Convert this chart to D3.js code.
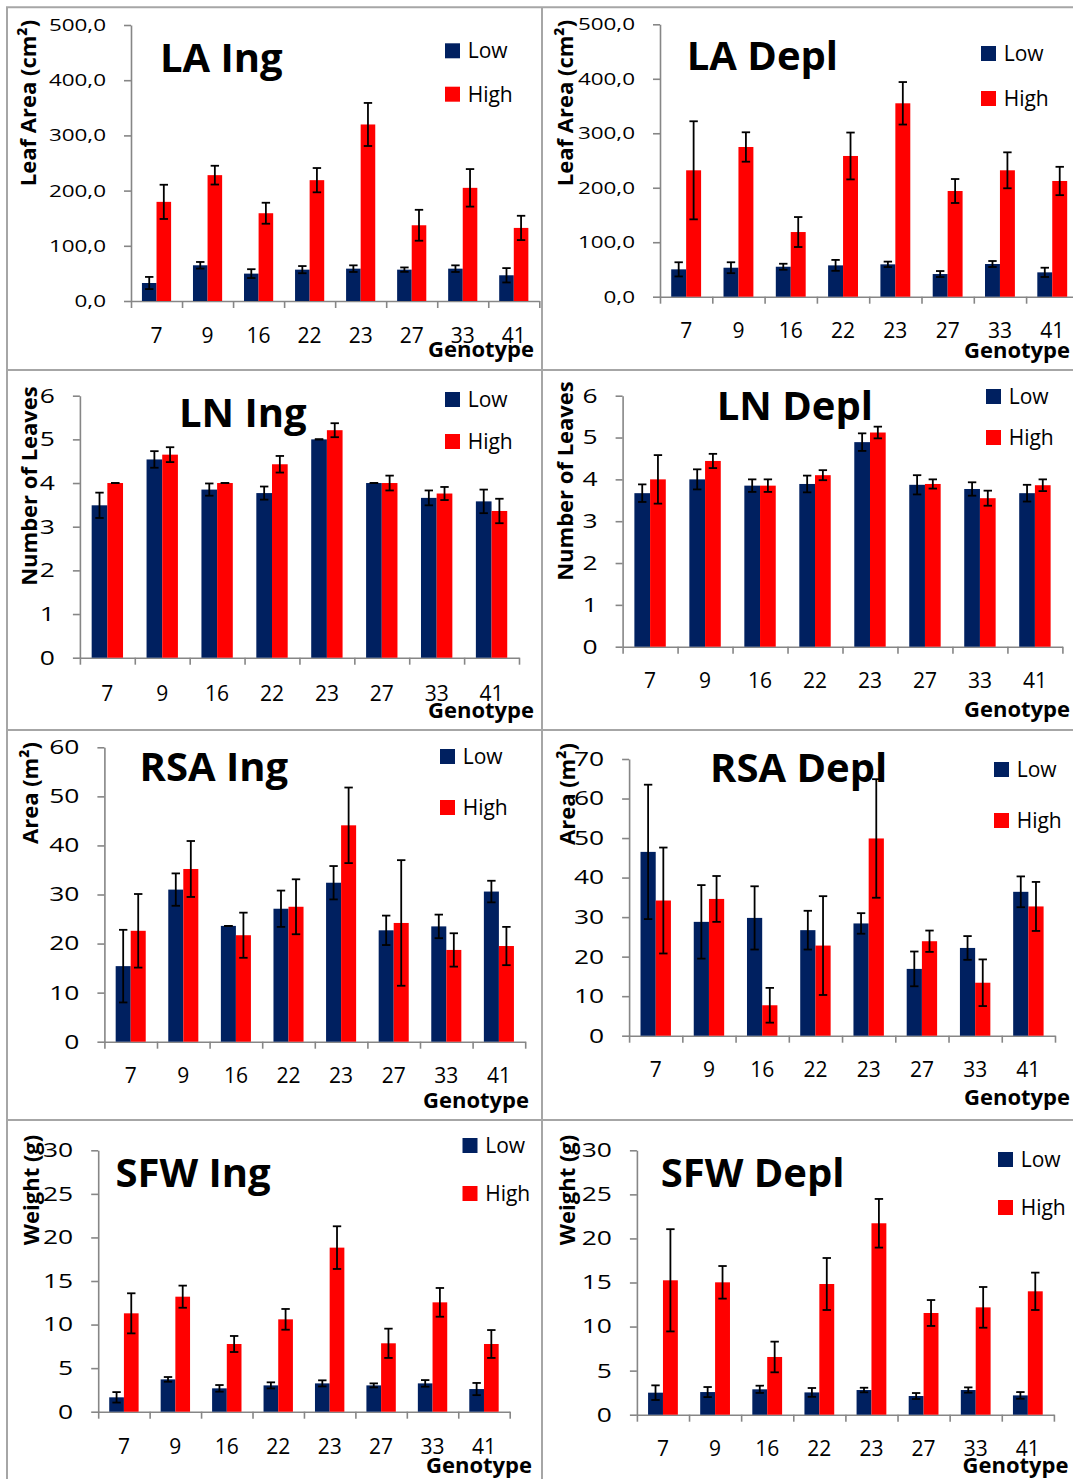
<!DOCTYPE html>
<html>
<head>
<meta charset="utf-8">
<script src="https://cdn.jsdelivr.net/npm/d3@7"></script>
<style>
  body { margin: 0; background: #fff; }
  svg { display: block; font-family: "Open Sans", Lato, sans-serif; }
</style>
</head>
<body>
<svg id="chart" width="1073" height="1479"></svg>
<script>
// categories and series
const genotypes = ["7", "9", "16", "22", "23", "27", "33", "41"];
const seriesNames = ["Low", "High"];

// Leaf area (cm²)
const laIngLow      = [32.6, 64.7, 49.6, 56.8, 58.6, 56.8, 58.6, 46.6];
const laIngLowErr   = [11, 6, 8, 6.5, 6, 4, 6, 13];
const laIngHigh     = [179.6, 228, 159, 218.9, 319.8, 137.2, 205, 132.4];
const laIngHighErr  = [31, 17, 19, 22, 39, 28, 34, 22];
const laDeplLow     = [50.2, 53.2, 55, 57.5, 59.4, 41.6, 60, 44.7];
const laDeplLowErr  = [13, 10, 5.5, 10, 5, 5.5, 5.5, 8.5];
const laDeplHigh    = [232, 274.8, 118.7, 258.3, 355, 194, 232, 212.4];
const laDeplHighErr = [90, 27, 27.5, 43, 39, 22, 33, 26];

// Number of leaves
const lnIngLow      = [3.49, 4.54, 3.85, 3.77, 5.0, 4.0, 3.66, 3.58];
const lnIngLowErr   = [0.29, 0.19, 0.14, 0.15, 0, 0, 0.17, 0.27];
const lnIngHigh     = [4.0, 4.65, 4.0, 4.43, 5.21, 4.0, 3.76, 3.36];
const lnIngHighErr  = [0, 0.17, 0, 0.19, 0.16, 0.17, 0.15, 0.28];
const lnDeplLow     = [3.67, 4.0, 3.85, 3.89, 4.89, 3.87, 3.77, 3.67];
const lnDeplLowErr  = [0.21, 0.24, 0.15, 0.2, 0.21, 0.23, 0.16, 0.2];
const lnDeplHigh    = [4.0, 4.44, 3.85, 4.1, 5.12, 3.89, 3.55, 3.86];
const lnDeplHighErr = [0.58, 0.17, 0.15, 0.12, 0.14, 0.11, 0.18, 0.14];

// Root surface area (m²)
const rsaIngLow      = [15.4, 31.0, 23.6, 27.1, 32.4, 22.7, 23.5, 30.6];
const rsaIngLowErr   = [7.4, 3.3, 0, 3.7, 3.4, 3.0, 2.4, 2.2];
const rsaIngHigh     = [22.6, 35.2, 21.7, 27.5, 44.1, 24.2, 18.7, 19.5];
const rsaIngHighErr  = [7.5, 5.7, 4.6, 5.6, 7.7, 12.8, 3.4, 3.9];
const rsaDeplLow     = [46.5, 28.8, 29.8, 26.7, 28.4, 16.9, 22.2, 36.4];
const rsaDeplLowErr  = [17, 9.3, 8, 4.9, 2.6, 4.4, 3.0, 3.9];
const rsaDeplHigh    = [34.2, 34.6, 7.7, 22.8, 49.9, 23.9, 13.4, 32.7];
const rsaDeplHighErr = [13.4, 5.8, 4.4, 12.5, 15, 2.7, 5.9, 6.2];

// Shoot fresh weight (g)
const sfwIngLow      = [1.65, 3.71, 2.68, 3.02, 3.25, 3.02, 3.25, 2.6];
const sfwIngLowErr   = [0.6, 0.27, 0.38, 0.35, 0.35, 0.23, 0.38, 0.7];
const sfwIngHigh     = [11.29, 13.2, 7.77, 10.6, 18.83, 7.85, 12.55, 7.77];
const sfwIngHighErr  = [2.3, 1.27, 0.92, 1.19, 2.45, 1.68, 1.65, 1.6];
const sfwDeplLow     = [2.5, 2.57, 2.88, 2.53, 2.8, 2.12, 2.8, 2.19];
const sfwDeplLowErr  = [0.83, 0.57, 0.41, 0.5, 0.26, 0.34, 0.3, 0.38];
const sfwDeplHigh    = [15.25, 15.02, 6.55, 14.83, 21.72, 11.54, 12.18, 14.0];
const sfwDeplHighErr = [5.8, 1.85, 1.74, 2.95, 2.76, 1.47, 2.31, 2.12];

const colors = { Low: "#002060", High: "#ff0000" };
const axisColor = "#868686";
const commaFmt = d => d3.format(".1f")(d).replace(".", ",");
const intFmt = d3.format("d");

// layout of each panel (pixel positions only)
const panels = [
  { title: "LA Ing", yTitle: "Leaf Area (cm²)", yMax: 500, yStep: 100, fmt: commaFmt, tickFont: 17,
    low: laIngLow, lowErr: laIngLowErr, high: laIngHigh, highErr: laIngHighErr,
    x0: 131, x1: 539.3, yTop: 25, yBot: 301, catY: 343.3,
    titleX: 160, titleY: 71.7, legX: 445, legY: [43.3, 86.7], yTitleX: 28, yTitleY: 103, genoX: 534, genoY: 356.7 },
  { title: "LA Depl", yTitle: "Leaf Area (cm²)", yMax: 500, yStep: 100, fmt: commaFmt, tickFont: 17,
    low: laDeplLow, lowErr: laDeplLowErr, high: laDeplHigh, highErr: laDeplHighErr,
    x0: 660, x1: 1078.4, yTop: 24.3, yBot: 296.7, catY: 338,
    titleX: 686.7, titleY: 70, legX: 981, legY: [46, 91], yTitleX: 565.5, yTitleY: 103, genoX: 1070, genoY: 358 },
  { title: "LN Ing", yTitle: "Number of Leaves", yMax: 6, yStep: 1, fmt: intFmt, tickFont: 20,
    low: lnIngLow, lowErr: lnIngLowErr, high: lnIngHigh, highErr: lnIngHighErr,
    x0: 79.9, x1: 519, yTop: 395.7, yBot: 657.7, catY: 701,
    titleX: 179, titleY: 427, legX: 445, legY: [392, 434], yTitleX: 29, yTitleY: 486, genoX: 534, genoY: 718 },
  { title: "LN Depl", yTitle: "Number of Leaves", yMax: 6, yStep: 1, fmt: intFmt, tickFont: 20,
    low: lnDeplLow, lowErr: lnDeplLowErr, high: lnDeplHigh, highErr: lnDeplHighErr,
    x0: 622.6, x1: 1062.4, yTop: 395.7, yBot: 646.7, catY: 688,
    titleX: 716.7, titleY: 420, legX: 986, legY: [389, 430], yTitleX: 565.5, yTitleY: 481, genoX: 1070, genoY: 717 },
  { title: "RSA Ing", yTitle: "Area (m²)", yMax: 60, yStep: 10, fmt: intFmt, tickFont: 20,
    low: rsaIngLow, lowErr: rsaIngLowErr, high: rsaIngHigh, highErr: rsaIngHighErr,
    x0: 104.4, x1: 525.2, yTop: 747.3, yBot: 1041.7, catY: 1083,
    titleX: 139.5, titleY: 781, legX: 440, legY: [749, 800], yTitleX: 30, yTitleY: 793, genoX: 529, genoY: 1108 },
  { title: "RSA Depl", yTitle: "Area (m²)", yMax: 70, yStep: 10, fmt: intFmt, tickFont: 20,
    low: rsaDeplLow, lowErr: rsaDeplLowErr, high: rsaDeplHigh, highErr: rsaDeplHighErr,
    x0: 629.1, x1: 1055, yTop: 759, yBot: 1035.7, catY: 1077,
    titleX: 710, titleY: 782, legX: 994, legY: [762, 813], yTitleX: 567, yTitleY: 794, genoX: 1070, genoY: 1105 },
  { title: "SFW Ing", yTitle: "Weight (g)", yMax: 30, yStep: 5, fmt: intFmt, tickFont: 20,
    low: sfwIngLow, lowErr: sfwIngLowErr, high: sfwIngHigh, highErr: sfwIngHighErr,
    x0: 98.2, x1: 509.7, yTop: 1150.3, yBot: 1411.7, catY: 1454,
    titleX: 115.4, titleY: 1187, legX: 462.5, legY: [1138, 1186], yTitleX: 31, yTitleY: 1190, genoX: 532, genoY: 1473 },
  { title: "SFW Depl", yTitle: "Weight (g)", yMax: 30, yStep: 5, fmt: intFmt, tickFont: 20,
    low: sfwDeplLow, lowErr: sfwDeplLowErr, high: sfwDeplHigh, highErr: sfwDeplHighErr,
    x0: 636.9, x1: 1053.9, yTop: 1150.3, yBot: 1414.7, catY: 1456,
    titleX: 660.7, titleY: 1187, legX: 998, legY: [1152, 1200], yTitleX: 567, yTitleY: 1190, genoX: 1068.5, genoY: 1473 }
];

const svg = d3.select("#chart");

// panel frame lines
const frame = svg.append("g").attr("stroke", "#a6a6a6").attr("stroke-width", 2).attr("fill", "none");
frame.append("path").attr("d", "M7,1479 V7.3 H1073");
frame.append("line").attr("x1", 542).attr("x2", 542).attr("y1", 7).attr("y2", 1479);
[370, 730, 1120].forEach(yy => frame.append("line").attr("x1", 7).attr("x2", 1073).attr("y1", yy).attr("y2", yy));

function drawPanel(p) {
  const g = svg.append("g");

  const y = d3.scaleLinear().domain([0, p.yMax]).range([p.yBot, p.yTop]);
  const x = d3.scaleBand().domain(genotypes).range([p.x0, p.x1]);
  const bw = x.bandwidth() / 3.5;   // excel gap width 150%
  const xs = d3.scaleBand().domain(seriesNames)
    .range([x.bandwidth() / 2 - bw, x.bandwidth() / 2 + bw]);
  const xb = d3.scaleLinear().domain([0, genotypes.length]).range([p.x0, p.x1]);

  // y axis
  const yAxis = g.append("g")
    .attr("transform", `translate(${p.x0},0)`)
    .call(d3.axisLeft(y)
      .tickValues(d3.range(0, p.yMax + 1e-9, p.yStep))
      .tickSize(7).tickSizeOuter(0).tickPadding(18)
      .tickFormat(p.fmt));

  // x axis: ticks between categories
  const xAxis = g.append("g")
    .attr("transform", `translate(0,${p.yBot})`)
    .call(d3.axisBottom(xb)
      .tickValues(d3.range(0, genotypes.length + 1))
      .tickSize(7).tickSizeOuter(0).tickFormat(""));

  [yAxis, xAxis].forEach(a => {
    a.select(".domain").attr("stroke", axisColor).attr("stroke-width", 1.6);
    a.selectAll(".tick line").attr("stroke", axisColor).attr("stroke-width", 1.6);
  });
  yAxis.attr("font-family", null).attr("font-size", null);
  // the tick labels in the original are drawn horizontally stretched
  yAxis.selectAll(".tick text")
    .attr("font-size", p.tickFont).attr("fill", "#000")
    .each(function () {
      const w = this.getComputedTextLength();
      d3.select(this).attr("textLength", w * 1.32).attr("lengthAdjust", "spacingAndGlyphs");
    });

  // category labels
  g.append("g").selectAll("text").data(genotypes).join("text")
    .attr("x", d => x(d) + x.bandwidth() / 2)
    .attr("y", p.catY)
    .attr("text-anchor", "middle")
    .attr("font-size", 21)
    .text(d => d);

  // bars
  const rows = genotypes.map((gname, i) => ({
    g: gname,
    vals: [
      { s: "Low", v: p.low[i], e: p.lowErr[i] },
      { s: "High", v: p.high[i], e: p.highErr[i] }
    ]
  }));

  const groups = g.append("g").selectAll("g").data(rows).join("g")
    .attr("transform", d => `translate(${x(d.g)},0)`);

  groups.selectAll("rect").data(d => d.vals).join("rect")
    .attr("x", d => xs(d.s))
    .attr("width", xs.bandwidth())
    .attr("y", d => y(d.v))
    .attr("height", d => y(0) - y(d.v))
    .attr("fill", d => colors[d.s]);

  // error bars
  const err = groups.selectAll("g.err").data(d => d.vals).join("g")
    .attr("class", "err")
    .attr("stroke", "#000").attr("stroke-width", 1.8);
  const cx = d => xs(d.s) + xs.bandwidth() / 2;
  err.append("line")
    .attr("x1", cx).attr("x2", cx)
    .attr("y1", d => y(d.v - d.e)).attr("y2", d => y(d.v + d.e));
  err.append("line")
    .attr("x1", d => cx(d) - 4.2).attr("x2", d => cx(d) + 4.2)
    .attr("y1", d => y(d.v + d.e)).attr("y2", d => y(d.v + d.e));
  err.append("line")
    .attr("x1", d => cx(d) - 4.2).attr("x2", d => cx(d) + 4.2)
    .attr("y1", d => y(d.v - d.e)).attr("y2", d => y(d.v - d.e));

  // title
  g.append("text")
    .attr("x", p.titleX).attr("y", p.titleY)
    .attr("font-size", 40).attr("font-weight", "bold")
    .text(p.title);

  // legend
  seriesNames.forEach((s, i) => {
    g.append("rect")
      .attr("x", p.legX).attr("y", p.legY[i])
      .attr("width", 15).attr("height", 15)
      .attr("fill", colors[s]);
    g.append("text")
      .attr("x", p.legX + 22.7).attr("y", p.legY[i] + 15)
      .attr("font-size", 21)
      .text(s);
  });

  // axis titles
  g.append("text")
    .attr("transform", `translate(${p.yTitleX},${p.yTitleY}) rotate(-90)`)
    .attr("text-anchor", "middle")
    .attr("dy", "0.36em")
    .attr("font-size", 22).attr("font-weight", "bold")
    .text(p.yTitle);

  g.append("text")
    .attr("x", p.genoX).attr("y", p.genoY)
    .attr("text-anchor", "end")
    .attr("font-size", 22).attr("font-weight", "bold")
    .text("Genotype");
}

panels.forEach(drawPanel);
</script>
</body>
</html>
